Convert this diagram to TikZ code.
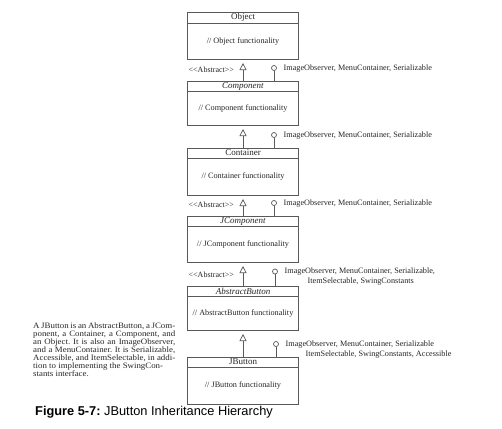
\documentclass[tikz,border=0pt]{standalone}
\usepackage{fontspec}
\setmainfont{Liberation Serif}
\newfontfamily\capfont{Liberation Sans}
\newfontfamily\notefont[FakeStretch=1.08]{Liberation Serif}
\usetikzlibrary{positioning,arrows.meta}
\frenchspacing

\tikzset{
	umlline/.style={draw=black!65, line width=0.7pt},
	classhead/.style={umlline, minimum width=111pt, minimum height=10pt, inner sep=0pt, outer sep=0pt, text=black!85, font=\fontsize{9}{9}\selectfont},
	classbody/.style={umlline, minimum width=111pt, inner sep=0pt, outer sep=0pt, text=black!85, font=\fontsize{8.2}{9}\selectfont},
	ifaceport/.style={circle, umlline, minimum size=5pt, inner sep=0pt, outer sep=0pt},
	ifacetext/.style={inner sep=0pt, align=left, text=black!85, font=\fontsize{8.2}{10}\selectfont},
	stereotype/.style={inner sep=0pt, text=black!85, font=\fontsize{8}{8}\selectfont},
	inherit/.style={umlline, -{Triangle[open, length=7pt, width=7pt]}, shorten >=4pt},
	note/.style={inner sep=0pt, text width=142pt, align=justify, text=black!85, font=\notefont\fontsize{8.2}{8}\selectfont},
}

\begin{document}
\begin{tikzpicture}[x=1pt, y=-1pt]
	\useasboundingbox[fill=white] (0,0) rectangle (502,428);

	% classes
	\node[classhead, anchor=north, minimum height=11pt] (object) at (243,12) {Object};
	\node[classbody, below=0pt of object, minimum height=36pt] (objectbody) {// Object functionality};
	\node[classhead, below=22pt of objectbody] (component) {\textit{Component}};
	\node[classbody, below=0pt of component, minimum height=34pt] (componentbody) {// Component functionality};
	\node[classhead, below=23pt of componentbody] (container) {Container};
	\node[classbody, below=0pt of container, minimum height=37pt] (containerbody) {// Container functionality};
	\node[classhead, below=21pt of containerbody] (jcomponent) {\textit{JComponent}};
	\node[classbody, below=0pt of jcomponent, minimum height=36pt] (jcomponentbody) {// JComponent functionality};
	\node[classhead, below=24pt of jcomponentbody] (abstractbutton) {\textit{AbstractButton}};
	\node[classbody, below=0pt of abstractbutton, minimum height=34pt] (abstractbuttonbody) {// AbstractButton functionality};
	\node[classhead, below=27pt of abstractbuttonbody] (jbutton) {JButton};
	\node[classbody, below=0pt of jbutton, minimum height=37pt] (jbuttonbody) {// JButton functionality};

	% inheritance
	\draw[inherit] (component.north) -- (objectbody.south);
	\draw[inherit] (container.north) -- (componentbody.south);
	\draw[inherit] (jcomponent.north) -- (containerbody.south);
	\draw[inherit] (abstractbutton.north) -- (jcomponentbody.south);
	\draw[inherit] (jbutton.north) -- (abstractbuttonbody.south);

	% <<Abstract>> labels
	\node[stereotype, above right=8pt and 1pt of component.north west] (componentstereo) {<{}<Abstract>{}>};
	\node[stereotype, above right=8pt and 1pt of jcomponent.north west] (jcomponentstereo) {<{}<Abstract>{}>};
	\node[stereotype, above right=8pt and 1pt of abstractbutton.north west] (abstractbuttonstereo) {<{}<Abstract>{}>};

	% interfaces
	\coordinate[right=31pt of component.north] (componentport);
	\node[ifaceport, above=10.5pt of componentport] (componentiface) {};
	\draw[umlline] (componentport) -- (componentiface);
	\node[ifacetext, below right=-3.5pt and 7pt of componentiface.east] (componentlist) {ImageObserver, MenuContainer, Serializable};

	\coordinate[right=31pt of container.north] (containerport);
	\node[ifaceport, above=10.5pt of containerport] (containeriface) {};
	\draw[umlline] (containerport) -- (containeriface);
	\node[ifacetext, below right=-3.5pt and 7pt of containeriface.east] (containerlist) {ImageObserver, MenuContainer, Serializable};

	\coordinate[right=31pt of jcomponent.north] (jcomponentport);
	\node[ifaceport, above=10.5pt of jcomponentport] (jcomponentiface) {};
	\draw[umlline] (jcomponentport) -- (jcomponentiface);
	\node[ifacetext, below right=-3.5pt and 7pt of jcomponentiface.east] (jcomponentlist) {ImageObserver, MenuContainer, Serializable};

	\coordinate[right=32pt of abstractbutton.north] (abstractbuttonport);
	\node[ifaceport, above=12pt of abstractbuttonport] (abstractbuttoniface) {};
	\draw[umlline] (abstractbuttonport) -- (abstractbuttoniface);
	\node[ifacetext, below right=-3.5pt and 7pt of abstractbuttoniface.east] (abstractbuttonlist) {ImageObserver, MenuContainer, Serializable,\\\hspace*{23pt}ItemSelectable, SwingConstants};

	\coordinate[right=33pt of jbutton.north] (jbuttonport);
	\node[ifaceport, above=10.5pt of jbuttonport] (jbuttoniface) {};
	\draw[umlline] (jbuttonport) -- (jbuttoniface);
	\node[ifacetext, below right=-3.5pt and 7pt of jbuttoniface.east] (jbuttonlist) {ImageObserver, MenuContainer, Serializable\\\hspace*{20pt}ItemSelectable, SwingConstants, Accessible};

	% side note and caption
	\node[note, anchor=north west] (note) at (33,323) {A JButton is an AbstractButton, a JCom-\linebreak ponent, a Container, a Component, and\linebreak an Object. It is also an ImageObserver,\linebreak and a MenuContainer. It is Serializable,\linebreak Accessible, and ItemSelectable, in addi-\linebreak tion to implementing the SwingCon-\\stants interface.};
	\node[anchor=west, inner sep=0pt, font=\capfont\fontsize{12.8}{14}\selectfont] (caption) at (35,412) {\textbf{Figure 5-7:} JButton Inheritance Hierarchy};
\end{tikzpicture}
\end{document}
